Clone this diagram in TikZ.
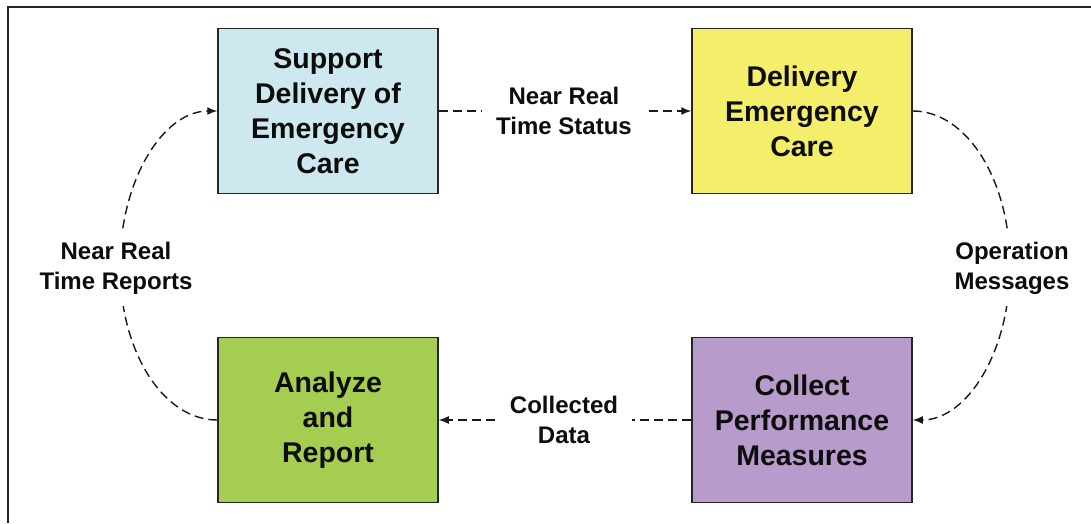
\documentclass[tikz,border=0pt]{standalone}
\usepackage{fontspec}
\setmainfont{Liberation Sans}
\usetikzlibrary{arrows.meta}
\definecolor{boxblue}{HTML}{CDE8EE}
\definecolor{boxyellow}{HTML}{F5EE6A}
\definecolor{boxgreen}{HTML}{A5CD52}
\definecolor{boxpurple}{HTML}{B79BCB}
\begin{document}
\begin{tikzpicture}[x=1pt,y=-1pt,
  procbox/.style={draw=black!85, line width=1.5pt, minimum width=220pt, minimum height=165pt,
    align=center, inner sep=0pt, text=black!95, font=\fontsize{28.5}{35}\selectfont\bfseries},
  conn/.style={line width=1.4pt, black!90, dash pattern=on 9pt off 5pt, -{Latex[length=10pt,width=8pt]}},
  lbl/.style={fill=white, align=center, inner xsep=14pt, inner ysep=12pt, text=black!95,
    font=\fontsize{24}{30}\selectfont\bfseries}]
\useasboundingbox (0,0) rectangle (1091,523);
\draw[line width=2pt, black!85] (8,523) -- (8,6.5) -- (1091,6.5);

\node[procbox, fill=boxblue]   (B) at (328,111) {Support\\Delivery of\\Emergency\\Care};
\node[procbox, fill=boxyellow] (Y) at (802,111) {Delivery\\Emergency\\Care};
\node[procbox, fill=boxgreen]  (G) at (328,420) {Analyze\\and\\Report};
\node[procbox, fill=boxpurple] (P) at (802,420) {Collect\\Performance\\Measures};

\coordinate (rc) at (1010,266);
\coordinate (lc) at (120,266);

\draw[conn] (B.east) -- (Y.west);
\draw[conn] (P.west) -- (G.east);
\draw[conn] (Y.east) .. controls +(54,0) and +(0,-86) .. (rc) .. controls +(0,86) and +(54,0) .. (P.east);
\draw[conn] (G.west) .. controls +(-54,0) and +(0,86) .. (lc) .. controls +(0,-86) and +(-54,0) .. (B.west);

\node[lbl] (ltop) at (564,111) {Near Real\\Time Status};
\node[lbl] (lbot) at (564,420) {Collected\\Data};
\node[lbl] (lright) at (1012,268) {Operation\\Messages};
\node[lbl] (lleft) at (116,268) {Near Real\\Time Reports};
\end{tikzpicture}
\end{document}
